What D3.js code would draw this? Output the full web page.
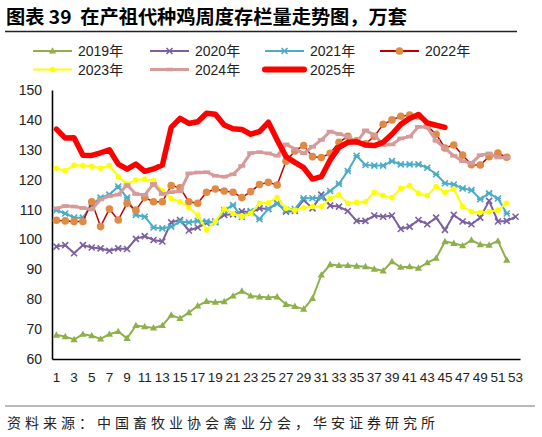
<!DOCTYPE html>
<html><head><meta charset="utf-8">
<script src="https://cdn.jsdelivr.net/npm/d3@7/dist/d3.min.js"></script>
<style>
html,body{margin:0;padding:0;background:#fff;}
svg{display:block;}
</style></head>
<body>
<svg id="chart" width="542" height="437"></svg>
<script>
const weeks = d3.range(1, 54);
const tickLabels = weeks.filter(w => w % 2 === 1);
const yTicks = [60,70,80,90,100,110,120,130,140,150];
const seriesNames = ["2019年","2020年","2021年","2022年","2023年","2024年","2025年"];

const y2019 = [68,67.5,66.5,68.3,67.8,66.7,68.3,69.2,66.9,71.2,70.8,70.4,71.2,74.7,73.6,75.5,77.8,79.3,79,79.2,81.1,82.7,81.1,80.8,80.6,80.8,78.3,77.6,76.7,80.3,88.1,91.6,91.3,91.3,91.1,90.9,90.1,89.5,92.6,90.7,90.9,90.4,92.2,93.7,99.3,98.7,97.9,99.8,98.3,98.1,99.5,93.1];
const y2020 = [97.6,98.1,95.4,98.1,97.3,97.0,96.2,97.0,96.8,100.2,101.1,99.8,99.3,105.7,106.5,103.0,104.0,105.5,106.0,108.2,108.4,109.4,109.1,110.4,110.2,112.1,109.3,109.5,113.2,110.4,115,111.3,111,109.5,106.2,106.2,108,107.6,108,103.5,104.3,106.5,105.1,107.3,103.2,108.2,106,105.1,107.3,112.9,106,106.2,107.6];
const y2021 = [109.8,108.7,107.3,107.3,111.5,114,115,117.7,114,108.2,107.6,104,103.7,104.3,106,105.7,106.2,106,105.7,109.8,111.5,107.5,109.5,106.8,110.2,112,109.8,110.2,113.8,113.8,114,116.2,118.6,122.9,128,124.9,124.7,124.7,126.2,125.1,125.1,125.1,124,121.8,118.8,118.4,117.1,116.5,113.5,115.4,113.7,108.7];
const y2022 = [106.4,106.2,106,106,112.6,104.3,110.2,106.5,112.1,109.8,114,112.6,112.6,118,117.3,112.6,112.1,115.8,116.9,116.2,115.8,114,116,118.4,119.1,118.2,126.2,129.6,131.4,127.7,127.4,128.8,132.5,134.5,133,132,134.5,138.5,140,141.2,141.6,141.3,138,135.2,130.6,131.6,128.2,125,124.9,127.7,128.9,127.5];
const y2023 = [123.8,123,124.8,124.7,124.5,123.8,124.7,121,118.6,119.9,120.2,119.6,116.3,113.7,112.6,110.6,108.2,103.2,106,110.2,108.7,107.8,108.7,112.1,112.3,114,110.4,109.8,110.6,111,111,113.7,114.9,112.1,112.4,112.6,115.8,114.7,114,117.1,118,115.4,114.7,117.7,115.8,116.9,111,109.3,109.1,109.3,109.8,112.1];
const y2024 = [110.4,111.2,111,110.5,110,113.4,114.5,115,118.2,115.2,114.9,118.6,115.2,115.8,116.1,122.1,122.4,122.5,121.3,121,121.8,124.6,128.9,129.2,128.8,128,131.8,130.3,128.8,131,133.3,136.1,135.3,134.5,132.5,136.5,135,131.6,131.8,133.8,134.4,137.7,137.5,133,130.5,128,126.2,125.5,128.2,128.8,127.4,127.4];
const y2025 = [136.9,133.9,134,128.2,128.1,129,130,125.2,123.5,125.2,122.8,123.6,124.9,137.5,140.5,138.8,139.4,142.2,141.9,138.3,137,136.8,135.2,136.1,139.2,133.3,127.7,125.8,124,120.2,121,126.6,130.8,132.5,132.7,131.6,131.4,132.5,135.2,138.5,140.5,141.8,139,138.2,137.5];

const seriesValues = [y2019,y2020,y2021,y2022,y2023,y2024,y2025];
const styles = [
  {line:"#8DB04A", width:2,   marker:"tri",    fill:"#8DB04A"},
  {line:"#7B5FA0", width:2,   marker:"x",      fill:"#7B5FA0"},
  {line:"#4BACC6", width:2,   marker:"star",   fill:"#4BACC6"},
  {line:"#C00000", width:1.5, marker:"circle", fill:"#E08A44", r:3.8},
  {line:"#FFFF00", width:2,   marker:"circle", fill:"#FFFF00", r:2.8},
  {line:"#D59A9A", width:3,   marker:"dash",   fill:"#D59A9A"},
  {line:"#FF0000", width:5.5, marker:"none",   fill:"#FF0000"}
];

const svg = d3.select("#chart");
const L = 52, R = 520, T = 90, B = 359;
const x = d3.scaleBand().domain(weeks).range([L, R]);
const xc = w => x(w) + x.bandwidth()/2;
const y = d3.scaleLinear().domain([60,150]).range([B, T]);

// title
svg.append("text").attr("x",6).attr("y",24)
  .attr("font-family","'Noto Sans CJK SC','Noto Sans',sans-serif")
  .attr("font-weight","bold").attr("font-size",19).attr("fill","#000")
  .style("white-space","pre")
  .attr("textLength",401).attr("lengthAdjust","spacingAndGlyphs")
  .text("图表 39  在产祖代种鸡周度存栏量走势图，万套");
svg.append("line").attr("x1",5).attr("x2",517).attr("y1",31.5).attr("y2",31.5)
  .attr("stroke","#222").attr("stroke-width",1.5);

// footer
svg.append("line").attr("x1",5).attr("x2",535).attr("y1",406).attr("y2",406)
  .attr("stroke","#777").attr("stroke-width",1.2);
svg.append("text").attr("x",7).attr("y",428)
  .attr("font-family","'Noto Sans CJK SC',sans-serif").attr("font-size",14).attr("fill","#222")
  .attr("textLength",428).attr("lengthAdjust","spacing")
  .text("资料来源：中国畜牧业协会禽业分会，华安证券研究所");

function drawMarker(g, type, cx, cy, st){
  if(type==="tri"){
    g.append("path").attr("d",`M${cx},${cy-3.8}L${cx+3.6},${cy+2.6}L${cx-3.6},${cy+2.6}Z`).attr("fill",st.fill);
  } else if(type==="x"){
    g.append("path").attr("d",`M${cx-3},${cy-3}L${cx+3},${cy+3}M${cx-3},${cy+3}L${cx+3},${cy-3}`)
      .attr("stroke",st.fill).attr("stroke-width",1.6).attr("fill","none");
  } else if(type==="star"){
    g.append("path").attr("d",`M${cx-3},${cy-3}L${cx+3},${cy+3}M${cx-3},${cy+3}L${cx+3},${cy-3}M${cx-3.2},${cy}L${cx+3.2},${cy}`)
      .attr("stroke",st.fill).attr("stroke-width",1.6).attr("fill","none");
  } else if(type==="circle"){
    g.append("circle").attr("cx",cx).attr("cy",cy).attr("r",st.r).attr("fill",st.fill);
  } else if(type==="dash"){
    g.append("rect").attr("x",cx-3.5).attr("y",cy-1.8).attr("width",7).attr("height",3.6).attr("fill",st.fill);
  }
}

// axes
const yAxis = d3.axisLeft(y).tickValues(yTicks).tickSize(0).tickPadding(10);
const gy = svg.append("g").attr("transform",`translate(${L},0)`).call(yAxis);
gy.select(".domain").attr("stroke","#000").attr("stroke-width",1.6);
gy.selectAll("text").attr("font-family","'Liberation Sans',Arial,sans-serif").attr("font-size",14).attr("fill","#222");

const xAxis = d3.axisBottom(x).tickValues(tickLabels).tickSize(0).tickPadding(13);
const gx = svg.append("g").attr("transform",`translate(0,${B})`).call(xAxis);
gx.select(".domain").attr("stroke","#000").attr("stroke-width",1.6);
gx.selectAll("text").attr("font-family","'Liberation Sans',Arial,sans-serif").attr("font-size",13.5).attr("fill","#222");

// series
const line = d3.line().x((d,i)=>xc(weeks[i])).y(d=>y(d));
seriesValues.forEach((vals,si)=>{
  const st = styles[si];
  const g = svg.append("g");
  g.append("path").attr("d",line(vals)).attr("fill","none").attr("stroke",st.line)
    .attr("stroke-width",st.width).attr("stroke-linejoin","round").attr("stroke-linecap","round");
  vals.forEach((v,i)=>drawMarker(g, st.marker, xc(weeks[i]), y(v), st));
});

// legend
const legX = [33,150,265,380];
const legY = [51,69.5];
seriesNames.forEach((name,i)=>{
  const st = styles[i];
  const lx = legX[i%4], ly = legY[Math.floor(i/4)];
  const g = svg.append("g");
  g.append("line").attr("x1",lx).attr("x2",lx+39).attr("y1",ly).attr("y2",ly)
    .attr("stroke",st.line).attr("stroke-width",i===6?6:(i===5?3:2)).attr("stroke-linecap",i===6?"round":"butt");
  drawMarker(g, st.marker, lx+19.5, ly, st);
  g.append("text").attr("x",lx+45).attr("y",ly+5)
    .attr("font-family","'Liberation Sans','Noto Sans CJK SC',sans-serif").attr("font-size",14).attr("fill","#222")
    .text(name);
});
</script>
</body></html>
